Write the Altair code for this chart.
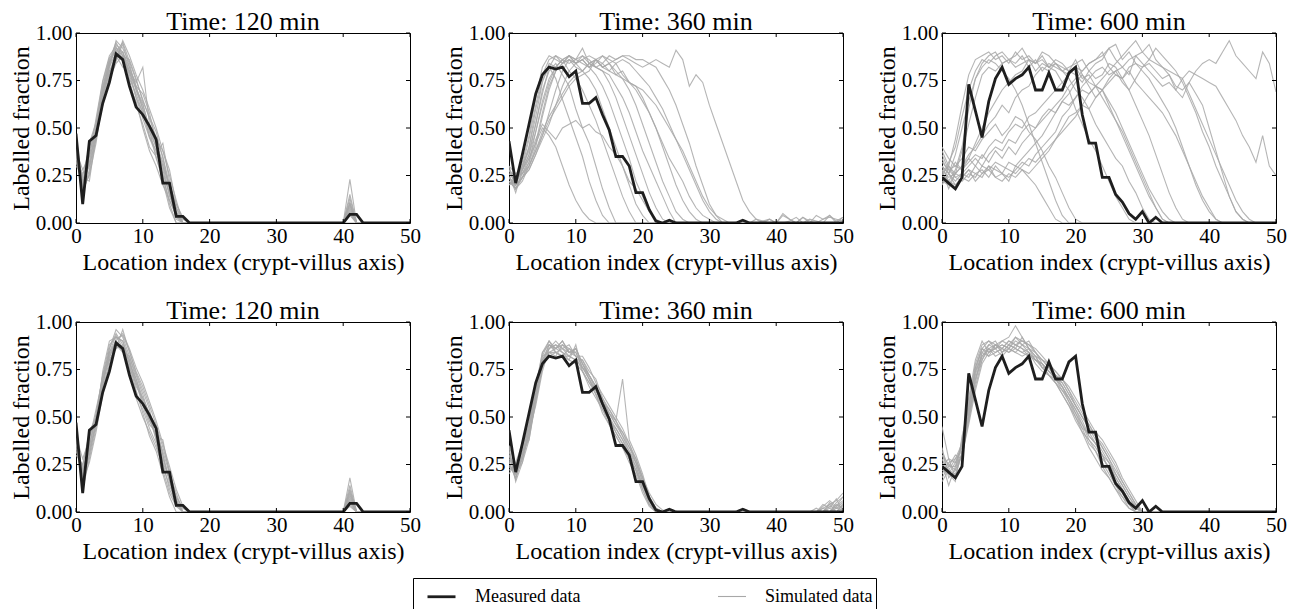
import altair as alt
import pandas as pd

# ---------------- data (values in hundredths of the labelled fraction) ----------------
x_ticks = [0, 10, 20, 30, 40, 50]
y_ticks = [0.0, 0.25, 0.5, 0.75, 1.0]
n_loc = 51
kinds = ["Measured data", "Simulated data"]
titles = ["Time: 120 min", "Time: 360 min", "Time: 600 min",
          "Time: 120 min", "Time: 360 min", "Time: 600 min"]

measured_120 = [(0, [47, 10, 43, 46, 63, 74, 89, 86, 72, 61, 57, 51, 44, 21, 21, 3.5, 3.5, 0]),
                (40, [0, 4.5, 4.5, 0])]
measured_360 = [(0, [43, 21, 36, 52, 68, 78, 82, 81, 82, 77, 80, 63, 63, 66, 57, 49, 35, 35, 30,
                     16, 16, 7, 1, 0, 1.5, 0]),
                (34, [0, 1.5, 0])]
measured_600 = [(0, [24, 21, 18, 24, 73, 59, 45, 64, 76, 82, 73, 76, 78, 82, 70, 70, 79, 70, 70,
                     79, 82, 57, 42, 42, 24, 24, 15, 11, 5, 2, 6, 0, 3, 0])]

# top row, 120 min
sim_120_top = [
    [(0, [40, 22, 30, 50, 70, 85, 92, 88, 80, 70, 62, 50, 40, 30, 15, 5, 0]), (40, [0, 10, 0])],
    [(0, [35, 15, 28, 48, 68, 82, 90, 95, 85, 75, 65, 55, 45, 35, 20, 8, 2, 0]), (40, [0, 5, 0])],
    [(0, [45, 12, 35, 45, 62, 78, 88, 90, 82, 72, 68, 58, 42, 32, 18, 3, 0]), (40, [0, 23, 0])],
    [(0, [30, 25, 40, 52, 72, 86, 95, 88, 78, 66, 55, 45, 38, 25, 10, 0]), (40, [0, 13, 0])],
    [(0, [42, 18, 25, 42, 65, 80, 85, 96, 88, 78, 70, 60, 50, 38, 25, 12, 0]), (40, [0, 8, 0])],
    [(0, [38, 28, 35, 55, 75, 88, 93, 85, 75, 62, 52, 40, 35, 22, 8, 0])],
    [(0, [33, 20, 32, 50, 66, 84, 92, 90, 76, 68, 58, 48, 40, 28, 14, 6, 0]), (40, [0, 10, 0])],
    [(0, [44, 14, 38, 47, 68, 80, 88, 82, 80, 74, 82, 52, 44, 38, 28, 10, 3, 0]), (40, [0, 6, 0])],
    [(0, [36, 24, 22, 46, 70, 83, 96, 92, 84, 70, 60, 45, 36, 42, 22, 8, 0]), (40, [0, 4, 0])],
    [(0, [40, 17, 42, 53, 74, 87, 90, 86, 72, 64, 50, 38, 30, 20, 12, 4, 0]), (40, [0, 15, 0])],
    [(0, [34, 26, 30, 44, 64, 76, 84, 88, 86, 76, 64, 56, 48, 34, 18, 6, 0]), (40, [0, 7, 0])],
    [(0, [46, 20, 36, 50, 70, 82, 94, 90, 80, 66, 58, 46, 38, 26, 16, 2, 0]), (40, [0, 11, 0])],
    [(0, [32, 22, 40, 48, 67, 79, 86, 94, 82, 72, 60, 50, 42, 30, 20, 10, 2, 0]), (40, [0, 5, 0])],
    [(0, [38, 16, 26, 45, 71, 85, 91, 87, 79, 71, 63, 49, 34, 24, 12, 4, 0]), (40, [0, 9, 0])],
]

# top row, 360 min
sim_360_top = [
    [(0, [22, 18, 26, 34, 42, 50, 46, 40, 30, 20, 12, 6, 2, 0])],
    [(0, [28, 24, 30, 40, 60, 75, 82, 76, 65, 55, 45, 35, 22, 12, 4, 0])],
    [(0, [20, 22, 28, 36, 52, 70, 80, 84, 78, 72, 60, 50, 42, 30, 18, 8, 0])],
    [(0, [30, 18, 24, 32, 48, 64, 76, 82, 86, 80, 76, 70, 62, 54, 44, 34, 24, 14, 6, 0])],
    [(0, [24, 20, 30, 44, 62, 78, 86, 88, 84, 86, 82, 80, 76, 70, 60, 50, 40, 30, 20, 10, 4, 0])],
    [(0, [26, 16, 28, 40, 56, 74, 84, 82, 86, 88, 84, 86, 82, 78, 72, 64, 54, 44, 34, 22, 14, 6, 0])],
    [(0, [20, 24, 26, 30, 38, 48, 56, 62, 68, 74, 78, 80, 84, 82, 80, 74, 66, 56, 46, 36, 26, 16, 8, 2, 0])],
    [(0, [28, 22, 32, 46, 66, 82, 88, 86, 84, 88, 86, 92, 84, 82, 80, 78, 72, 66, 58, 48, 38, 30, 22, 14, 6, 0])],
    [(0, [22, 20, 24, 28, 36, 46, 54, 60, 66, 72, 76, 78, 80, 86, 82, 84, 80, 76, 70, 62, 52, 42, 32, 22, 14, 6, 2, 0])],
    [(0, [30, 26, 28, 34, 44, 52, 48, 44, 50, 52, 54, 50, 52, 48, 46, 40, 36, 30, 22, 18, 12, 6, 2, 0])],
    [(0, [24, 18, 22, 30, 40, 56, 70, 80, 84, 88, 86, 84, 82, 86, 82, 84, 78, 80, 74, 72, 66, 58, 50, 40, 30, 20, 12, 6, 2, 0])],
    [(0, [26, 22, 30, 38, 52, 68, 82, 88, 86, 84, 86, 88, 86, 82, 84, 80, 84, 78, 74, 70, 64, 58, 50, 42, 34, 28, 22, 14, 8, 4, 2, 0])],
    [(0, [20, 24, 26, 32, 42, 58, 72, 80, 84, 86, 84, 88, 84, 86, 88, 86, 84, 86, 84, 80, 76, 72, 66, 60, 52, 44, 36, 28, 20, 12, 6, 2, 0])],
    [(0, [28, 20, 24, 30, 38, 46, 58, 70, 80, 86, 84, 86, 82, 84, 88, 84, 86, 88, 88, 86, 86, 84, 82, 76, 70, 62, 52, 42, 30, 20, 10, 4, 0]),
     (36, [0, 2, 1, 0, 0, 5, 2, 0, 3, 1, 0, 2, 4, 1, 3])],
    [(0, [22, 18, 24, 28, 36, 44, 52, 62, 72, 80, 84, 86, 88, 86, 84, 88, 86, 88, 86, 84, 82, 84, 86, 84, 82, 91, 86, 72, 78, 74, 62, 52, 42, 32, 22, 12, 6, 2, 0, 2, 0, 4, 2, 0, 3, 0, 4, 2, 3, 2, 1])],
    [(0, [24, 20, 28, 36, 48, 62, 74, 82, 86, 88, 84, 80, 84, 86, 82, 80, 78, 76, 74, 72, 70, 66, 62, 56, 50, 44, 38, 30, 22, 14, 8, 4, 2, 0, 0, 0, 0, 0, 1, 2, 0, 0, 1, 3, 0, 2, 1, 0, 4, 0, 3])],
]

# top row, 600 min
sim_600_top = [
    [(0, [30, 22, 28, 40, 60, 76, 82, 86, 84, 80, 76, 70, 62, 52, 42, 32, 22, 12, 4, 0])],
    [(0, [26, 30, 24, 22, 26, 24, 30, 28, 24, 26, 22, 30, 28, 24, 20, 14, 8, 2, 0])],
    [(0, [36, 28, 30, 34, 40, 38, 44, 48, 52, 46, 50, 56, 54, 48, 44, 38, 30, 24, 16, 8, 2, 0])],
    [(0, [20, 30, 44, 62, 78, 86, 88, 90, 86, 88, 84, 90, 86, 88, 84, 86, 82, 80, 74, 70, 60, 52, 44, 38, 30, 22, 14, 8, 2, 0])],
    [(0, [28, 24, 26, 30, 36, 40, 46, 52, 56, 62, 58, 66, 70, 72, 78, 82, 80, 84, 82, 80, 86, 78, 74, 72, 70, 62, 54, 48, 40, 32, 24, 16, 8, 2, 0])],
    [(0, [34, 26, 20, 24, 22, 26, 28, 24, 30, 26, 24, 28, 32, 30, 36, 40, 44, 48, 56, 60, 66, 72, 76, 80, 82, 78, 80, 74, 70, 62, 54, 46, 36, 26, 16, 8, 2, 0])],
    [(0, [24, 32, 40, 56, 70, 80, 86, 84, 88, 90, 86, 88, 92, 86, 84, 88, 82, 84, 80, 76, 70, 66, 60, 52, 46, 40, 34, 30, 22, 16, 8, 2, 0])],
    [(0, [30, 26, 32, 28, 34, 30, 36, 32, 38, 34, 40, 36, 42, 46, 50, 54, 58, 62, 66, 72, 76, 80, 84, 86, 90, 82, 78, 76, 82, 84, 80, 76, 70, 64, 58, 50, 40, 30, 20, 12, 6, 2, 0])],
    [(0, [22, 20, 26, 24, 28, 22, 26, 30, 24, 22, 26, 24, 28, 26, 30, 34, 38, 44, 50, 56, 58, 62, 60, 66, 70, 74, 78, 76, 70, 76, 82, 86, 92, 88, 84, 80, 74, 66, 58, 48, 40, 30, 22, 14, 6, 2, 0])],
    [(0, [40, 34, 30, 28, 32, 36, 34, 40, 44, 42, 48, 52, 50, 56, 58, 62, 66, 70, 74, 78, 82, 80, 84, 86, 88, 92, 86, 82, 78, 88, 84, 80, 76, 72, 74, 70, 76, 68, 60, 52, 44, 36, 28, 20, 12, 6, 2, 0])],
    [(0, [26, 22, 20, 24, 28, 26, 24, 30, 28, 26, 32, 30, 34, 38, 42, 46, 52, 58, 64, 68, 74, 78, 72, 66, 70, 76, 80, 82, 86, 88, 90, 94, 86, 82, 78, 70, 66, 74, 80, 84, 86, 84, 90, 96, 88, 84, 80, 76, 90, 84, 69])],
    [(0, [30, 26, 22, 26, 24, 30, 26, 28, 32, 30, 28, 26, 30, 34, 32, 36, 40, 44, 48, 52, 56, 62, 68, 72, 76, 80, 84, 88, 92, 96, 90, 86, 84, 82, 80, 78, 76, 80, 78, 76, 74, 72, 66, 60, 54, 46, 40, 32, 46, 30, 25])],
    [(0, [32, 28, 24, 26, 30, 34, 30, 36, 40, 38, 44, 42, 48, 52, 50, 56, 60, 58, 64, 62, 66, 70, 68, 72, 66, 60, 54, 46, 38, 30, 22, 14, 8, 2, 0])],
    [(0, [20, 26, 36, 50, 64, 76, 84, 88, 90, 84, 86, 84, 88, 82, 86, 80, 84, 82, 80, 78, 82, 76, 78, 72, 70, 64, 58, 50, 42, 34, 26, 18, 12, 6, 2, 0])],
    [(0, [28, 18, 26, 38, 52, 66, 78, 82, 80, 84, 86, 82, 84, 86, 80, 84, 82, 86, 84, 80, 78, 74, 80, 76, 78, 84, 82, 76, 80, 74, 70, 66, 62, 58, 52, 46, 38, 30, 22, 14, 8, 2, 0])],
    [(0, [38, 30, 26, 30, 34, 42, 50, 58, 64, 70, 74, 78, 80, 86, 84, 90, 88, 84, 80, 82, 84, 86, 80, 84, 86, 92, 94, 86, 90, 84, 82, 84, 80, 76, 78, 72, 70, 74, 68, 62, 50, 38, 26, 14, 6, 2, 0])],
]

# bottom row, 120 min
sim_120_bottom = [
    [(0, [42, 15, 30, 46, 66, 84, 90, 86, 80, 66, 60, 52, 44, 30, 16, 5, 0]), (40, [0, 18, 0])],
    [(0, [36, 22, 34, 52, 72, 88, 92, 90, 78, 70, 58, 48, 40, 26, 12, 4, 0]), (40, [0, 12, 0])],
    [(0, [30, 25, 40, 48, 64, 80, 86, 96, 84, 74, 66, 56, 46, 34, 22, 8, 2, 0]), (40, [0, 6, 0])],
    [(0, [44, 12, 28, 44, 70, 86, 94, 88, 76, 62, 54, 44, 36, 22, 10, 3, 0]), (40, [0, 9, 0])],
    [(0, [38, 20, 36, 50, 68, 82, 88, 84, 82, 72, 62, 50, 38, 28, 18, 6, 0]), (40, [0, 4, 0])],
    [(0, [34, 18, 32, 47, 74, 90, 92, 90, 80, 68, 56, 46, 42, 32, 20, 10, 0]), (40, [0, 14, 0])],
    [(0, [40, 28, 38, 54, 70, 80, 86, 88, 78, 64, 52, 40, 32, 20, 8, 0]), (40, [0, 7, 0])],
    [(0, [46, 16, 26, 42, 62, 78, 90, 94, 86, 76, 68, 58, 48, 36, 24, 12, 3, 0]), (40, [0, 5, 0])],
    [(0, [32, 24, 42, 50, 72, 84, 93, 86, 74, 60, 50, 42, 34, 24, 14, 5, 0]), (40, [0, 10, 0])],
    [(0, [39, 19, 30, 48, 66, 86, 96, 92, 82, 70, 60, 50, 40, 38, 20, 6, 0]), (40, [0, 8, 0])],
    [(0, [36, 22, 35, 49, 69, 83, 89, 85, 76, 68, 58, 48, 44, 30, 16, 8, 2, 0]), (40, [0, 3, 0])],
    [(0, [43, 14, 33, 46, 71, 81, 91, 93, 85, 73, 64, 54, 38, 26, 18, 7, 0]), (40, [0, 11, 0])],
]

# bottom row, 360 min
sim_360_bottom = [
    [(0, [25, 20, 30, 42, 62, 80, 88, 84, 86, 82, 86, 78, 72, 66, 58, 52, 46, 40, 32, 26, 16, 6, 1, 0]), (45, [0, 0, 2, 4, 6, 10])],
    [(0, [30, 18, 28, 40, 58, 76, 84, 86, 88, 84, 84, 76, 70, 64, 56, 50, 42, 36, 28, 22, 12, 4, 0]), (45, [0, 0, 0, 3, 2, 5])],
    [(0, [22, 24, 34, 46, 66, 82, 90, 84, 82, 86, 82, 80, 74, 70, 60, 54, 48, 70, 38, 30, 20, 8, 2, 0]), (45, [0, 0, 0, 0, 4, 2])],
    [(0, [34, 16, 26, 38, 60, 78, 86, 88, 84, 80, 88, 74, 68, 62, 52, 46, 40, 34, 26, 20, 10, 3, 0]), (45, [0, 0, 3, 6, 3, 8])],
    [(0, [28, 22, 32, 44, 64, 84, 90, 86, 90, 84, 82, 82, 76, 68, 62, 56, 50, 44, 36, 28, 18, 8, 2, 0]), (45, [0, 0, 0, 0, 0, 4])],
    [(0, [20, 26, 36, 48, 68, 80, 82, 84, 82, 80, 78, 74, 66, 60, 54, 48, 44, 38, 30, 24, 14, 6, 1, 0]), (45, [0, 2, 0, 4, 0, 2])],
    [(0, [32, 20, 28, 42, 56, 74, 86, 90, 86, 84, 86, 78, 72, 66, 60, 52, 46, 42, 34, 28, 18, 10, 4, 1, 0]), (45, [0, 0, 0, 2, 7, 0])],
    [(0, [26, 18, 30, 40, 62, 82, 84, 82, 88, 86, 84, 76, 70, 62, 56, 48, 42, 36, 30, 22, 14, 6, 2, 0]), (45, [0, 0, 2, 0, 3, 6])],
    [(0, [35, 24, 34, 46, 64, 78, 88, 86, 84, 82, 80, 80, 72, 64, 58, 54, 48, 40, 34, 26, 16, 6, 0]), (45, [0, 0, 0, 5, 2, 3])],
    [(0, [24, 20, 26, 44, 60, 80, 86, 88, 86, 88, 82, 74, 68, 64, 56, 50, 44, 38, 32, 24, 14, 5, 1, 0]), (45, [0, 0, 0, 0, 2, 1])],
    [(0, [30, 22, 32, 38, 58, 76, 84, 84, 82, 82, 80, 76, 72, 66, 58, 52, 48, 42, 36, 26, 18, 8, 2, 0]), (45, [0, 0, 4, 2, 0, 4])],
    [(0, [27, 17, 30, 46, 66, 84, 88, 86, 90, 84, 86, 78, 70, 62, 54, 46, 40, 34, 28, 22, 12, 4, 0]), (45, [0, 0, 0, 0, 5, 8])],
]

# bottom row, 600 min
sim_600_bottom = [
    [(0, [30, 25, 22, 30, 50, 70, 82, 86, 88, 86, 90, 88, 86, 84, 80, 78, 74, 72, 68, 62, 56, 50, 44, 38, 32, 26, 18, 12, 6, 2, 0])],
    [(0, [22, 20, 26, 35, 55, 76, 86, 84, 86, 88, 86, 90, 88, 86, 82, 76, 76, 70, 66, 58, 52, 46, 40, 36, 30, 22, 16, 10, 4, 0])],
    [(0, [45, 28, 18, 32, 48, 66, 80, 88, 90, 84, 88, 92, 90, 88, 84, 80, 78, 74, 70, 64, 58, 52, 46, 40, 34, 28, 20, 14, 8, 3, 0])],
    [(0, [18, 24, 30, 28, 52, 72, 84, 82, 84, 86, 84, 86, 84, 82, 80, 76, 72, 68, 64, 60, 54, 46, 38, 34, 28, 24, 18, 12, 6, 2, 0])],
    [(0, [26, 14, 24, 36, 58, 78, 88, 90, 86, 90, 92, 98, 92, 86, 84, 80, 76, 72, 66, 60, 52, 44, 42, 36, 30, 22, 14, 10, 4, 0])],
    [(0, [30, 22, 20, 30, 46, 64, 78, 84, 86, 88, 86, 84, 88, 84, 80, 78, 74, 70, 68, 62, 56, 50, 44, 40, 36, 30, 24, 16, 10, 4, 0])],
    [(0, [24, 28, 26, 34, 56, 74, 82, 86, 82, 84, 88, 86, 84, 86, 82, 76, 72, 70, 64, 58, 50, 44, 36, 32, 26, 20, 14, 8, 2, 0])],
    [(0, [34, 18, 22, 38, 60, 80, 90, 84, 88, 86, 84, 88, 90, 88, 86, 82, 78, 74, 70, 66, 60, 54, 48, 42, 38, 32, 26, 18, 12, 6, 0])],
    [(0, [20, 26, 28, 32, 50, 68, 84, 88, 86, 82, 86, 84, 82, 84, 78, 74, 72, 68, 62, 56, 48, 42, 34, 28, 22, 18, 12, 6, 2, 0])],
    [(0, [28, 20, 16, 40, 54, 76, 86, 82, 88, 90, 88, 86, 92, 86, 80, 78, 74, 70, 66, 60, 54, 48, 40, 36, 30, 26, 20, 14, 8, 2, 0])],
    [(0, [32, 24, 24, 30, 48, 70, 80, 86, 84, 86, 90, 88, 86, 82, 82, 80, 76, 72, 70, 64, 56, 50, 46, 40, 34, 28, 22, 16, 10, 4, 0])],
    [(0, [16, 22, 28, 36, 52, 74, 86, 90, 88, 84, 86, 92, 88, 90, 84, 78, 72, 68, 62, 56, 50, 42, 38, 32, 24, 18, 12, 8, 4, 0])],
]

panel_measured = [measured_120, measured_360, measured_600, measured_120, measured_360, measured_600]
panel_sims = [sim_120_top, sim_360_top, sim_600_top, sim_120_bottom, sim_360_bottom, sim_600_bottom]


def expand(segments):
    vals = [0.0] * n_loc
    for start, seg in segments:
        for i, v in enumerate(seg):
            if start + i < n_loc:
                vals[start + i] = v / 100.0
    return vals


W, H = 334, 190
TICK = 4
FONT = "Liberation Serif"

xscale = alt.Scale(domain=[0, 50], nice=False, zero=False)
yscale = alt.Scale(domain=[0, 1], nice=False)
xaxis = alt.Axis(values=x_ticks, format="d", title="Location index (crypt-villus axis)",
                 labelFlush=False, labelOverlap=False, labelPadding=2, titlePadding=4)
yaxis = alt.Axis(values=y_ticks, format=".2f", title="Labelled fraction",
                 labelFlush=False, labelOverlap=False, labelPadding=4, titlePadding=2)

legend = alt.Legend(title=" ", titleOrient="bottom", titleFontSize=14, titlePadding=6,
                    orient="none", legendX=337, legendY=545, direction="horizontal",
                    symbolType="stroke", symbolSize=784, symbolOffset=10, labelFont=FONT, labelFontSize=18,
                    labelColor="black", labelOffset=18, columnPadding=126, padding=3,
                    strokeColor="black", fillColor="white", symbolOpacity=1)
color = alt.Color("kind:N", scale=alt.Scale(domain=kinds, range=["#1e1e1e", "#a8a8a8"]), legend=legend)
width_enc = alt.StrokeWidth("kind:N", scale=alt.Scale(domain=kinds, range=[2.8, 1.1]), legend=legend)

xt_df = pd.DataFrame({"x": x_ticks})
yt_df = pd.DataFrame({"y": y_ticks})


def make_panel(title, measured, sims):
    rows = []
    for k, s in enumerate(sims):
        for xi, v in enumerate(expand(s)):
            rows.append({"x": xi, "y": v, "run": f"run{k}", "kind": "Simulated data"})
    sim_df = pd.DataFrame(rows)
    meas_df = pd.DataFrame({"x": list(range(n_loc)), "y": expand(measured), "kind": "Measured data"})

    X = alt.X("x:Q", scale=xscale, axis=xaxis)
    Y = alt.Y("y:Q", scale=yscale, axis=yaxis)

    sim_layer = alt.Chart(sim_df).mark_line(opacity=0.85, clip=True).encode(
        x=X, y=Y, detail="run:N", color=color, strokeWidth=width_enc)
    meas_layer = alt.Chart(meas_df).mark_line(clip=True).encode(
        x=X, y=Y, color=color, strokeWidth=width_enc)

    tick_style = dict(color="black", strokeWidth=1)
    xb = alt.Chart(xt_df).mark_rule(**tick_style).encode(x=X, y=alt.value(H), y2=alt.value(H - TICK))
    xtop = alt.Chart(xt_df).mark_rule(**tick_style).encode(x=X, y=alt.value(0), y2=alt.value(TICK))
    yl = alt.Chart(yt_df).mark_rule(**tick_style).encode(y=Y, x=alt.value(0), x2=alt.value(TICK))
    yr = alt.Chart(yt_df).mark_rule(**tick_style).encode(y=Y, x=alt.value(W), x2=alt.value(W - TICK))

    return alt.layer(sim_layer, meas_layer, xb, xtop, yl, yr).properties(
        width=W, height=H,
        title=alt.Title(title, font=FONT, fontSize=26, fontWeight="normal", color="black",
                        offset=-13, frame="group"))


panels = [make_panel(t, m, s) for t, m, s in zip(titles, panel_measured, panel_sims)]

chart = alt.concat(*panels, columns=3, spacing=99, bounds="flush").properties(
    padding={"left": 0, "top": 0, "right": 0, "bottom": 0}
).configure_view(
    stroke="black", strokeWidth=1
).configure_axis(
    labelFont=FONT, titleFont=FONT, labelFontSize=21, titleFontSize=24,
    labelColor="black", titleColor="black", titleFontWeight="normal",
    grid=False, ticks=False, domain=False
).configure_title(
    font=FONT, fontSize=26, fontWeight="normal", color="black"
)

chart.save("out.html", embed_options={"renderer": "svg", "actions": False})
